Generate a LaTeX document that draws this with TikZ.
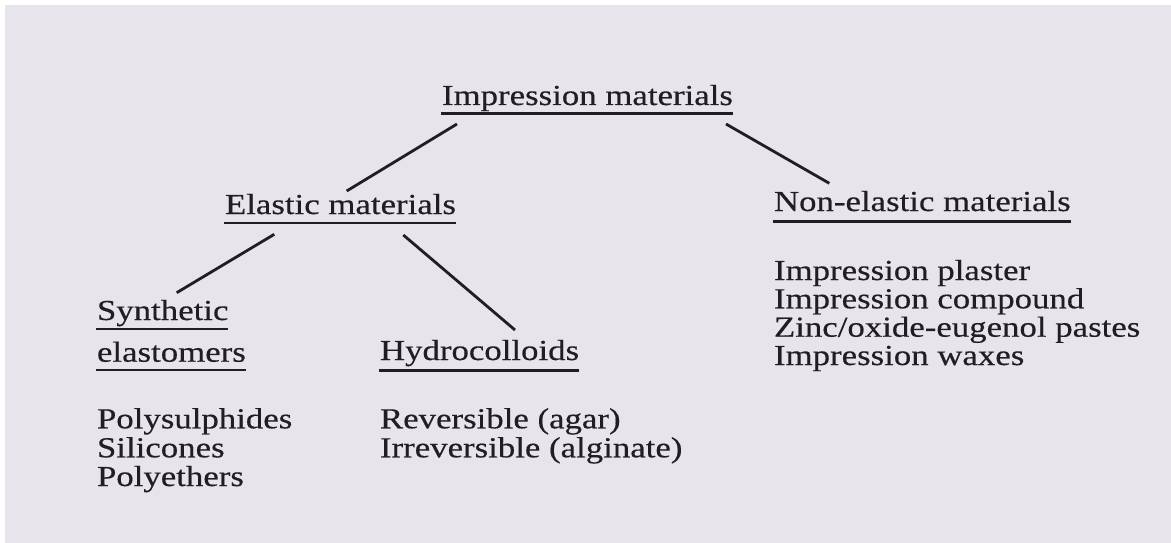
\documentclass[tikz,border=0pt]{standalone}
\usepackage{fontspec}
\setmainfont{Liberation Serif}[FakeStretch=1.2,FakeBold=0.4]
\usetikzlibrary{calc}
\definecolor{paper}{RGB}{231,228,236}
\definecolor{ink}{RGB}{32,30,34}
\begin{document}
\begin{tikzpicture}[x=1pt,y=-1pt,
  lbl/.style={inner sep=0pt,outer sep=0pt,anchor=base west,text=ink,font=\fontsize{29}{29}\selectfont},
  uline/.style={draw=ink,line width=2.2pt},
  conn/.style={draw=ink,line width=2.8pt}]
\useasboundingbox (0,0) rectangle (1171,543);
\fill[white] (0,0) rectangle (1171,543);
\fill[paper] (5,5) rectangle (1171,543);
% headings
\node[lbl] (imp) at (442,105) {Impression materials};
\node[lbl] (ela) at (225,214) {Elastic materials};
\node[lbl] (non) at (774,211) {Non-elastic materials};
\node[lbl] (syn1) at (97,320) {Synthetic};
\node[lbl] (syn2) at (97,361.7) {elastomers};
\node[lbl] (hyd) at (380,360) {Hydrocolloids};
% lists
\node[lbl] (pol) at (97,428.3) {Polysulphides};
\node[lbl] (sil) at (97,457.3) {Silicones};
\node[lbl] (pe) at (97,486) {Polyethers};
\node[lbl] (rev) at (380,428.3) {Reversible (agar)};
\node[lbl] (irr) at (380,457.3) {Irreversible (alginate)};
\node[lbl] (ip) at (774,280) {Impression plaster};
\node[lbl] (ic) at (774,308.3) {Impression compound};
\node[lbl] (zn) at (774,336.7) {Zinc/oxide-eugenol pastes};
\node[lbl] (iw) at (774,365) {Impression waxes};
% underlines
\foreach \n/\d in {imp/8.5,ela/8.7,non/10.5,syn1/9.3,syn2/8.5,hyd/10.5}{
  \draw[uline] ($(\n.base west)+(-1,\d)$) -- ($(\n.base east)+(0,\d)$);
}
% connectors
\draw[conn] ($(imp.base west)+(15,19)$) -- ($(ela.base west)+(121.7,-23)$);
\draw[conn] ($(imp.base west)+(284,19)$) -- ($(non.base west)+(55.3,-27.7)$);
\draw[conn] ($(ela.base west)+(49.3,20.3)$) -- ($(syn1.base west)+(79.7,-27.3)$);
\draw[conn] ($(ela.base west)+(178.3,21)$) -- ($(hyd.base west)+(135,-30)$);
\end{tikzpicture}
\end{document}
